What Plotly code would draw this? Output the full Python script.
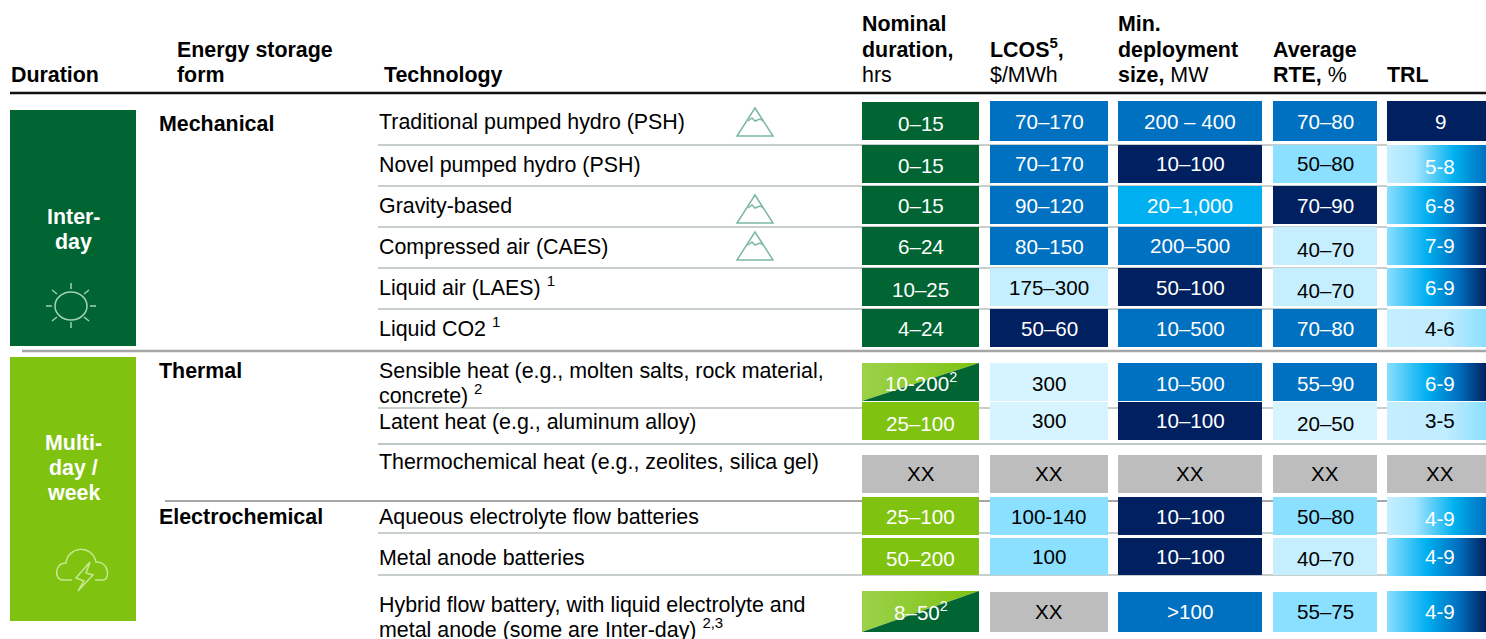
import plotly.graph_objects as go

# table content
technologies = [
    ["Traditional pumped hydro (PSH)"],
    ["Novel pumped hydro (PSH)"],
    ["Gravity-based"],
    ["Compressed air (CAES)"],
    ["Liquid air (LAES) <sup>1</sup>"],
    ["Liquid CO2 <sup>1</sup>"],
    ["Sensible heat (e.g., molten salts, rock material,", "concrete) <sup>2</sup>"],
    ["Latent heat (e.g., aluminum alloy)"],
    ["Thermochemical heat (e.g., zeolites, silica gel)"],
    ["Aqueous electrolyte flow batteries"],
    ["Metal anode batteries"],
    ["Hybrid flow battery, with liquid electrolyte and", "metal anode (some are Inter-day) <sup>2,3</sup>"],
]
nominal_duration = ["0–15", "0–15", "0–15", "6–24", "10–25", "4–24", "10-200<sup>2</sup>", "25–100", "XX", "25–100", "50–200", "8–50<sup>2</sup>"]
lcos = ["70–170", "70–170", "90–120", "80–150", "175–300", "50–60", "300", "300", "XX", "100-140", "100", "XX"]
min_size = ["200 – 400", "10–100", "20–1,000", "200–500", "50–100", "10–500", "10–500", "10–100", "XX", "10–100", "10–100", ">100"]
average_rte = ["70–80", "50–80", "70–90", "40–70", "40–70", "70–80", "55–90", "20–50", "XX", "50–80", "40–70", "55–75"]
trl = ["9", "5-8", "6-8", "7-9", "6-9", "4-6", "6-9", "3-5", "XX", "4-9", "4-9", "4-9"]

# colour class of each cell
nominal_cls = ["dg", "dg", "dg", "dg", "dg", "dg", "diag", "lg", "grey", "lg", "lg", "diag"]
lcos_cls = ["blue", "blue", "blue", "blue", "pale", "navy", "xpale", "xpale", "grey", "sky", "sky", "grey"]
size_cls = ["blue", "navy", "cyan", "blue", "navy", "blue", "blue", "navy", "grey", "navy", "navy", "blue"]
rte_cls = ["blue", "sky", "navy", "pale", "pale", "blue", "blue", "xpale", "grey", "sky", "pale", "sky"]
trl_cls = ["navy", "grad_a", "grad_b", "grad_b", "grad_b", "grad_c", "grad_b", "grad_c", "grey", "grad_a", "grad_b", "grad_b"]

# layout in page pixels
W, H = 1486, 639
col_x = [(862, 979), (990, 1108), (1118, 1262), (1273, 1377), (1387, 1486)]
row_top = [101, 145, 186, 227, 268, 309, 363, 402, 455, 497, 538, 592]
row_bot = [141, 183, 224, 265, 306, 347, 401, 440, 493, 535, 575, 632]
text_y = [
    [123, 165, 205, 246, 289, 328, 384, 423, 473, 516, 558, 613],
    [121, 163, 205, 246, 287, 328, 383, 420, 473, 516, 556, 611],
    [121, 163, 205, 245, 287, 328, 383, 420, 473, 516, 556, 611],
    [121, 163, 205, 249, 290, 328, 383, 423, 473, 516, 558, 611],
    [121, 166, 205, 245, 287, 328, 383, 420, 473, 518, 556, 611],
]
tech_y = [122, 165, 206, 247, 288, 329, 371, 422, 462, 517, 558, 605]

FILLS = {
    "dg": "#006532", "lg": "#7FC210", "blue": "#0070C0", "navy": "#002060",
    "cyan": "#00B0F0", "sky": "#8BDFFF", "pale": "#C5EEFF", "xpale": "#D6F4FF",
    "grey": "#BDBDBD",
}
GRADS = {
    "grad_a": [[0, "#C5EEFF"], [0.28, "#A5E6FF"], [0.68, "#00B0F0"], [1, "#0070C0"]],
    "grad_b": [[0, "#8BDFFF"], [0.4, "#00B0F0"], [0.72, "#0070C0"], [1, "#002060"]],
    "grad_c": [[0, "#C5EEFF"], [0.6, "#C0ECFF"], [1, "#8BDFFF"]],
}
DARK_TEXT = {"sky", "pale", "xpale", "grey", "grad_c"}
FONT = "Liberation Sans, Arial, sans-serif"
LINE_COL = "#B4BEBB"
ICON_COL = "#A5D3B5"
BODY_SIZE = 21.4
CELL_SIZE = 20.6

fig = go.Figure()
annots = []


def text(x, y, s, size=BODY_SIZE, color="#000000", anchor="left"):
    # a superscript makes the text box taller, which pushes the line down
    if "<sup>" in s:
        y -= 2
    if anchor == "left":
        x -= 1
    annots.append(dict(
        x=x, y=y, text=s, showarrow=False, xanchor=anchor, yanchor="middle",
        xref="x", yref="y", borderpad=0,
        font=dict(family=FONT, size=size, color=color),
    ))


def area(xs, ys, color=None, grad=None):
    kw = dict(fillgradient=dict(type="horizontal", colorscale=grad)) if grad else dict(fillcolor=color)
    fig.add_trace(go.Scatter(
        x=xs, y=ys, mode="lines", fill="toself", line=dict(width=0),
        hoverinfo="skip", showlegend=False, **kw,
    ))


def rect(x0, x1, y0, y1, color=None, grad=None):
    area([x0, x1, x1, x0, x0], [y0, y0, y1, y1, y0], color, grad)


def hline(y, x0, x1, width=1.5, color=LINE_COL):
    fig.add_shape(type="line", x0=x0, x1=x1, y0=y, y1=y, layer="below",
                  line=dict(color=color, width=width))


def icon(path, color=ICON_COL, width=1.5):
    fig.add_shape(type="path", path=path, layer="above", line=dict(color=color, width=width))


# rules
hline(93, 10, W, width=2.5, color="#111111")
for y in [145, 186, 227, 268, 309, 408, 533, 575]:
    hline(y, 378, 1387)
hline(444, 378, W, width=2, color="#BFC7C5")
hline(351, 22, W, width=2.5, color="#A6A6A6")
hline(501, 165, W, width=2, color="#A6A6A6")

# duration blocks
rect(10, 136, 110, 346, FILLS["dg"])
rect(10, 136, 357, 621, FILLS["lg"])
for y, s in [(217, "Inter-"), (242, "day")]:
    text(73, y, f"<b>{s}</b>", color="#FFFFFF", anchor="center")
for y, s in [(443, "Multi-"), (468, "day /"), (493, "week")]:
    text(73, y, f"<b>{s}</b>", color="#FFFFFF", anchor="center")

# header
for x, y, s in [
    (11, 75, "<b>Duration</b>"), (177, 50, "<b>Energy storage</b>"), (177, 75, "<b>form</b>"),
    (384, 75, "<b>Technology</b>"), (862, 24, "<b>Nominal</b>"), (862, 50, "<b>duration,</b>"),
    (862, 75, "hrs"), (990, 50, "<b>LCOS<sup>5</sup>,</b>"), (990, 75, "$/MWh"),
    (1118, 24, "<b>Min.</b>"), (1118, 50, "<b>deployment</b>"), (1118, 75, "<b>size,</b> MW"),
    (1273, 50, "<b>Average</b>"), (1273, 75, "<b>RTE,</b> %"), (1387, 75, "<b>TRL</b>"),
]:
    text(x, y, s)

# storage forms
for y, s in [(124, "Mechanical"), (371, "Thermal"), (517, "Electrochemical")]:
    text(159, y, f"<b>{s}</b>")

# technology names
for lines, y in zip(technologies, tech_y):
    for k, s in enumerate(lines):
        text(379, y + k * 25, s)

# value cells
columns = [
    (nominal_duration, nominal_cls),
    (lcos, lcos_cls),
    (min_size, size_cls),
    (average_rte, rte_cls),
    (trl, trl_cls),
]
for c, (vals, classes) in enumerate(columns):
    x0, x1 = col_x[c]
    for r, (val, cls) in enumerate(zip(vals, classes)):
        y0, y1 = row_top[r], row_bot[r]
        if c == 0 and r == 0:
            y0, y1 = 102, 140
        if r == 11 and (c == 0 or c == 4):
            y0 = 591
        if r == 10 and c == 4:
            y1 = 576
        if cls == "diag":
            area([x0, x1, x0, x0], [y0, y0, y1, y0], grad=[[0, "#9BD24A"], [1, "#7FC210"]])
            area([x0, x1, x1, x0], [y1, y0, y1, y1], FILLS["dg"])
        elif cls in GRADS:
            rect(x0, x1, y0, y1, grad=GRADS[cls])
        else:
            rect(x0, x1, y0, y1, FILLS[cls])
        color = "#000000" if cls in DARK_TEXT else "#FFFFFF"
        text((x0 + x1) / 2 if c < 4 else 1440, text_y[c][r], val, size=CELL_SIZE, color=color, anchor="center")

# mountain icons
for top in [108, 195, 232]:
    icon(f"M 755 {top} L 737 {top+28} L 773 {top+28} Z", color="#7DB8A0")
    icon(f"M 748 {top+13} L 752 {top+10} L 755 {top+13} L 760 {top+11} L 763 {top+13}", color="#7DB8A0")

# sun icon
fig.add_shape(type="circle", x0=55, x1=87, y0=292, y1=320, layer="above",
              line=dict(color=ICON_COL, width=1.5))
for seg in ["M 46 306 L 52 306", "M 90 306 L 96 306", "M 71 283 L 71 289", "M 71 322 L 71 328",
            "M 52 290 L 57 294", "M 89 290 L 84 294", "M 52 321 L 57 317", "M 89 321 L 84 317"]:
    icon(seg)

# cloud icon
icon("M 72 580 L 63 580 C 54 580 54 563 66 563 C 68 546 92 544 96 562 C 110 562 110 580 103 580 L 95 580",
     color="#C8E890")
icon("M 90 562 L 76 578 L 84 581 L 78 591 L 93 575 L 86 573 Z", color="#C8E890")

fig.update_xaxes(visible=False, range=[0, W], fixedrange=True)
fig.update_yaxes(visible=False, range=[H, 0], fixedrange=True)
fig.update_layout(
    width=W, height=H, margin=dict(l=0, r=0, t=0, b=0),
    plot_bgcolor="#FFFFFF", paper_bgcolor="#FFFFFF",
    annotations=annots, showlegend=False, hovermode=False,
)

fig.write_html(
    "out.html",
    config={"displayModeBar": False},
    post_script="document.body.style.margin='0';document.body.style.overflow='hidden';",
)
